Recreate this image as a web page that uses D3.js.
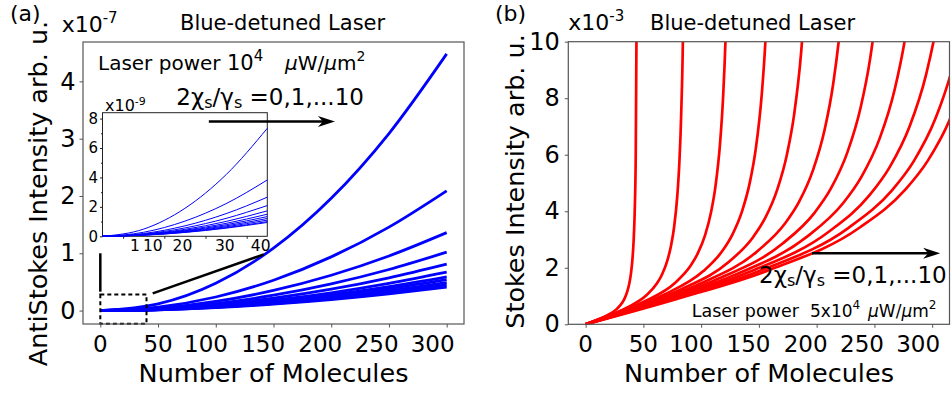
<!DOCTYPE html>
<meta charset="utf-8">
<style>
    body { margin: 0; background: #fff; }
    svg text { font-family: "DejaVu Sans", sans-serif; fill: #000; }
    .frame { fill: none; stroke: #555; stroke-width: 1.2px; }
    .inset-frame { fill: #fff; stroke: #222; stroke-width: 1px; }
    .axis path { display: none; }
    .axis line { stroke: #555; stroke-width: 1px; }
    .tick-label { font-size: 23px; }
    .axis text { font-size: 24px; }
    .inset-axis path { display: none; }
    .inset-axis line { stroke: #222; stroke-width: 1px; }
    .anti { fill: none; stroke: #0000ff; stroke-width: 2.8px; }
    .anti-inset { fill: none; stroke: #0000ff; stroke-width: 1px; }
    .stokes { fill: none; stroke: #ff0000; stroke-width: 2.7px; }
    .guide { fill: none; stroke: #000; stroke-width: 2.5px; }
</style>
<body>
<script src="https://d3js.org/d3.v7.min.js"></script>
<script>

// ---- data ----
// (a) anti-Stokes intensity, units of 1e-7, one row per 2chi/gamma = 0..10
var molecules = [0, 50, 100, 150, 200, 250, 300];
var antiStokes = [
    [0, 0.117, 0.477, 1.09, 1.96, 3.09, 4.48],
    [0, 0.060, 0.237, 0.530, 0.937, 1.457, 2.09],
    [0, 0.041, 0.160, 0.352, 0.617, 0.953, 1.36],
    [0, 0.032, 0.122, 0.268, 0.466, 0.717, 1.02],
    [0, 0.026, 0.099, 0.216, 0.373, 0.572, 0.81],
    [0, 0.023, 0.084, 0.181, 0.311, 0.475, 0.67],
    [0, 0.020, 0.075, 0.160, 0.275, 0.419, 0.59],
    [0, 0.019, 0.068, 0.147, 0.252, 0.383, 0.54],
    [0, 0.017, 0.062, 0.133, 0.229, 0.348, 0.49],
    [0, 0.015, 0.057, 0.122, 0.210, 0.319, 0.45],
    [0, 0.014, 0.052, 0.112, 0.191, 0.291, 0.41]
];
// inset, units of 1e-9
var insetMolecules = [0, 10, 20, 30, 40];
var antiStokesInset = [
    [0, 0.49, 1.90, 4.19, 7.34],
    [0, 0.275, 1.03, 2.22, 3.83],
    [0, 0.19, 0.71, 1.54, 2.66],
    [0, 0.154, 0.568, 1.217, 2.09],
    [0, 0.129, 0.473, 1.01, 1.73],
    [0, 0.114, 0.413, 0.878, 1.50],
    [0, 0.103, 0.372, 0.787, 1.34],
    [0, 0.093, 0.336, 0.711, 1.21],
    [0, 0.085, 0.305, 0.646, 1.10],
    [0, 0.077, 0.277, 0.587, 1.00],
    [0, 0.073, 0.262, 0.553, 0.94]
];
var insetTickPos = [7.9, 12.2, 19.4, 29.7, 38.4];
var insetTickLabels = ["1", "10", "20", "30", "40"];

// (b) Stokes intensity, units of 1e-3, one curve per 2chi/gamma = 0..10
var stokesX = [
    [0, 9.04, 18.07, 27.11, 31.63, 33.89, 36.14, 37.95, 39.31, 40.66, 41.57, 42.47, 43.37, 44.28],
    [0, 17.61, 35.22, 52.84, 61.64, 66.05, 70.45, 73.97, 76.61, 79.25, 81.02, 82.78, 84.54, 86.30],
    [0, 25.86, 51.72, 77.58, 90.51, 96.98, 103.44, 108.61, 112.49, 116.37, 118.96, 121.54, 124.13],
    [0, 33.88, 67.76, 101.64, 118.58, 127.05, 135.52, 142.30, 147.38, 152.46, 155.85, 159.24],
    [0, 41.46, 82.92, 124.38, 145.1, 155.48, 165.8, 174.13, 180.4, 186.6, 190.7],
    [0, 49.26, 98.52, 147.78, 172.4, 184.73, 197.0, 206.89, 214.3, 221.7, 226.6],
    [0, 56.66, 113.3, 169.98, 198.3, 212.48, 226.6, 237.97, 246.5, 255.0, 260.6],
    [0, 63.7, 127.4, 191.1, 223.0, 238.88, 254.8, 267.54, 277.1, 286.7, 293.0],
    [0, 70.16, 140.3, 210.48, 245.6, 263.1, 280.6, 294.67, 305.2, 315.7, 322.7],
    [0, 75.76, 151.5, 227.3, 265.2, 284.1, 303.0, 318.2, 329.6],
    [0, 79.0, 158.0, 237.0, 276.5, 296.25, 316.0, 331.8]
];
var stokesV = [
    [0, 0.144, 0.305, 0.546, 0.760, 0.926, 1.170, 1.472, 1.818, 2.371, 2.967, 3.961, 5.943, 11.90],
    [0, 0.273, 0.578, 1.034, 1.440, 1.754, 2.216, 2.788, 3.444, 4.489, 5.619, 7.501, 11.25, 22.53],
    [0, 0.388, 0.823, 1.474, 2.053, 2.500, 3.158, 3.973, 4.908, 6.398, 8.009, 10.69, 16.04],
    [0, 0.494, 1.046, 1.873, 2.608, 3.176, 4.013, 5.048, 6.236, 8.129, 10.18, 13.58],
    [0, 0.585, 1.240, 2.221, 3.092, 3.765, 4.758, 5.985, 7.394, 9.638, 12.06],
    [0, 0.673, 1.426, 2.554, 3.556, 4.330, 5.471, 6.883, 8.502, 11.08, 13.87],
    [0, 0.748, 1.586, 2.840, 3.954, 4.815, 6.084, 7.654, 9.455, 12.33, 15.43],
    [0, 0.812, 1.722, 3.083, 4.293, 5.227, 6.605, 8.309, 10.26, 13.38, 16.75],
    [0, 0.863, 1.829, 3.275, 4.560, 5.553, 7.016, 8.826, 10.90, 14.21, 17.79],
    [0, 0.897, 1.902, 3.406, 4.742, 5.775, 7.296, 9.179, 11.34],
    [0, 0.900, 1.908, 3.416, 4.755, 5.791, 7.317, 9.205]
];

var xTicks = [0, 50, 100, 150, 200, 250, 300];
var xTickLabelPos = [0, 50, 91.5, 141, 190.5, 239.3, 287.8];
var antiTicks = [0, 1, 2, 3, 4];
var stokesTicks = [0, 2, 4, 6, 8, 10];

// ---- svg ----
var svg = d3.select("body").append("svg")
    .attr("width", 951)
    .attr("height", 394);

var defs = svg.append("defs");

// x axis: tick marks from the axis, labels where the figure puts them
function xAxis(scale, y0) {
    svg.append("g").attr("class", "axis")
        .attr("transform", "translate(0," + y0 + ")")
        .call(d3.axisBottom(scale).tickValues(xTicks).tickSize(3.5))
        .selectAll("text").remove();
    svg.append("g").selectAll("text").data(xTicks).enter().append("text")
        .attr("class", "tick-label")
        .attr("text-anchor", "middle")
        .attr("x", function(d, i) { return scale(xTickLabelPos[i]); })
        .attr("y", y0 + 28)
        .text(function(d) { return d; });
}

// ================= panel (a) =================
var xa = d3.scaleLinear().domain([-15, 315]).range([83, 464]);
var ya = d3.scaleLinear().domain([-0.234, 4.687]).range([324, 42]);

defs.append("clipPath").attr("id", "clipA")
  .append("rect").attr("x", 83).attr("y", 42).attr("width", 381).attr("height", 282);

var antiLine = d3.line()
    .x(function(d, i) { return xa(molecules[i]); })
    .y(function(d) { return ya(d); })
    .curve(d3.curveMonotoneX);

svg.append("g").attr("clip-path", "url(#clipA)")
  .selectAll("path").data(antiStokes).enter().append("path")
    .attr("class", "anti")
    .attr("d", antiLine);

// zoom box + connector lines
svg.append("rect")
    .attr("x", xa(0)).attr("y", ya(0.28))
    .attr("width", xa(40) - xa(0)).attr("height", ya(-0.23) - ya(0.28))
    .attr("fill", "none").attr("stroke", "#000")
    .attr("stroke-width", 2).attr("stroke-dasharray", "4,3");
svg.append("line").attr("class", "guide")
    .attr("x1", xa(0)).attr("y1", ya(0.33)).attr("x2", xa(0)).attr("y2", ya(1.0));
svg.append("line").attr("class", "guide")
    .attr("x1", xa(45.4)).attr("y1", ya(0.30)).attr("x2", xa(141.6)).attr("y2", ya(0.98));

svg.append("rect").attr("class", "frame")
    .attr("x", 83).attr("y", 42).attr("width", 381).attr("height", 282);

xAxis(xa, 324);
svg.append("g").attr("class", "axis")
    .attr("transform", "translate(83,0)")
    .call(d3.axisLeft(ya).tickValues(antiTicks).tickFormat(d3.format("d"))
        .tickSize(3.5).tickPadding(4));

// inset
var xi = d3.scaleLinear().domain([0, 40]).range([102.5, 267.3]);
var yi = d3.scaleLinear().domain([0, 8.4]).range([236.3, 112.7]);

svg.append("rect").attr("class", "inset-frame")
    .attr("x", 102.5).attr("y", 112.7).attr("width", 164.8).attr("height", 123.6);

var insetLine = d3.line()
    .x(function(d, i) { return xi(insetMolecules[i]); })
    .y(function(d) { return yi(d); })
    .curve(d3.curveMonotoneX);

svg.append("g").selectAll("path").data(antiStokesInset).enter().append("path")
    .attr("class", "anti-inset")
    .attr("d", insetLine);

svg.append("g").attr("class", "inset-axis")
    .attr("transform", "translate(102.5,0)")
    .call(d3.axisLeft(yi).tickValues([0, 2, 4, 6, 8]).tickSize(2.5).tickPadding(2))
    .selectAll("text").style("font-size", "15px");
svg.append("g").attr("class", "inset-axis")
    .attr("transform", "translate(102.5,0)")
    .call(d3.axisLeft(yi).tickValues([1, 3, 5, 7]).tickSize(1.5))
    .selectAll("text").remove();
svg.append("g").attr("class", "inset-axis")
    .attr("transform", "translate(0,236.3)")
    .call(d3.axisBottom(xi).tickValues([5, 15, 25, 35]).tickSize(2.5))
    .selectAll("text").remove();
svg.append("g").selectAll("text").data(insetTickLabels).enter().append("text")
    .attr("x", function(d, i) { return xi(insetTickPos[i]); })
    .attr("y", 251)
    .attr("text-anchor", "middle")
    .style("font-size", "15.5px")
    .text(function(d) { return d; });

var ex9 = svg.append("text").attr("x", 105).attr("y", 110.5).style("font-size", "16px");
ex9.append("tspan").text("x10");
ex9.append("tspan").attr("dy", -6).style("font-size", "11px").text("-9");

// texts (a)
svg.append("text").attr("x", 10).attr("y", 21).style("font-size", "22px").text("(a)");
var ex7 = svg.append("text").attr("x", 61.7).attr("y", 31.5).style("font-size", "22px");
ex7.append("tspan").text("x10");
ex7.append("tspan").attr("dy", -9).style("font-size", "15px").text("-7");
svg.append("text").attr("x", 180).attr("y", 30).style("font-size", "21px").text("Blue-detuned Laser");

svg.append("text").attr("x", 98).attr("y", 70).style("font-size", "20px").text("Laser power");
var p4 = svg.append("text").attr("x", 227).attr("y", 70).style("font-size", "21px");
p4.append("tspan").text("10");
p4.append("tspan").attr("dy", -9).style("font-size", "15px").text("4");
var un1 = svg.append("text").attr("x", 285).attr("y", 70).style("font-size", "20px");
un1.append("tspan").style("font-style", "italic").text("\u03bc");
un1.append("tspan").text("W/");
un1.append("tspan").style("font-style", "italic").text("\u03bc");
un1.append("tspan").text("m");
un1.append("tspan").attr("dy", -9).style("font-size", "14px").text("2");

function ratioLabel(x, y) {
    var t = svg.append("text").attr("x", x).attr("y", y).style("font-size", "23px");
    t.append("tspan").text("2\u03c7");
    t.append("tspan").attr("dy", 3).style("font-size", "16px").text("s");
    t.append("tspan").attr("dy", -3).text("/\u03b3");
    t.append("tspan").attr("dy", 3).style("font-size", "16px").text("s");
    t.append("tspan").attr("dy", -3).text(" =0,1,...10");
}
ratioLabel(176.3, 105);

function arrow(x1, x2, y) {
    svg.append("line").attr("stroke", "#000").attr("stroke-width", 2.5)
        .attr("x1", x1).attr("y1", y).attr("x2", x2 - 12).attr("y2", y);
    svg.append("path").attr("fill", "#000")
        .attr("d", "M" + x2 + "," + y + "L" + (x2 - 17) + "," + (y - 5.5) +
              "L" + (x2 - 12) + "," + y + "L" + (x2 - 17) + "," + (y + 5.5) + "Z");
}
arrow(xa(94), xa(203.2), ya(3.30));

svg.append("text").attr("text-anchor", "middle").attr("x", 273.5).attr("y", 381.5)
    .style("font-size", "25.5px").text("Number of Molecules");
svg.append("text").attr("text-anchor", "middle")
    .attr("transform", "translate(47,193.5) rotate(-90)")
    .style("font-size", "25.5px").text("AntiStokes Intensity arb. u.");

// ================= panel (b) =================
var xb = d3.scaleLinear().domain([-15, 315]).range([568.3, 949.5]);
var yb = d3.scaleLinear().domain([0, 10]).range([324.3, 41.7]);

defs.append("clipPath").attr("id", "clipB")
  .append("rect").attr("x", 568.3).attr("y", 41.7).attr("width", 381.2).attr("height", 282.6);

var stokesLine = d3.line()
    .x(function(d) { return xb(d[0]); })
    .y(function(d) { return yb(d[1]); })
    .curve(d3.curveMonotoneX);

svg.append("g").attr("clip-path", "url(#clipB)")
  .selectAll("path").data(stokesX).enter().append("path")
    .attr("class", "stokes")
    .attr("d", function(xs, k) {
        return stokesLine(xs.map(function(x, i) { return [x, stokesV[k][i]]; }));
    });

svg.append("rect").attr("class", "frame")
    .attr("x", 568.3).attr("y", 41.7).attr("width", 381.2).attr("height", 282.6);

xAxis(xb, 324.3);
svg.append("g").attr("class", "axis")
    .attr("transform", "translate(568.3,0)")
    .call(d3.axisLeft(yb).tickValues(stokesTicks).tickFormat(d3.format("d"))
        .tickSize(3.5).tickPadding(5));

svg.append("text").attr("x", 495).attr("y", 21).style("font-size", "22px").text("(b)");
var ex3 = svg.append("text").attr("x", 568.3).attr("y", 29.5).style("font-size", "22px");
ex3.append("tspan").text("x10");
ex3.append("tspan").attr("dy", -9).style("font-size", "15px").text("-3");
svg.append("text").attr("x", 650).attr("y", 30).style("font-size", "21px").text("Blue-detuned Laser");

arrow(xb(196), xb(306.9), yb(2.51));
ratioLabel(759, 283.3);

svg.append("text").attr("x", 691.7).attr("y", 317.3).style("font-size", "17.5px").text("Laser power");
var p5 = svg.append("text").attr("x", 810).attr("y", 317.3).style("font-size", "17px");
p5.append("tspan").text("5x10");
p5.append("tspan").attr("dy", -8).style("font-size", "12px").text("4");
var un2 = svg.append("text").attr("x", 868).attr("y", 317.3).style("font-size", "17px");
un2.append("tspan").style("font-style", "italic").text("\u03bc");
un2.append("tspan").text("W/");
un2.append("tspan").style("font-style", "italic").text("\u03bc");
un2.append("tspan").text("m");
un2.append("tspan").attr("dy", -8).style("font-size", "12px").text("2");

svg.append("text").attr("text-anchor", "middle").attr("x", 759).attr("y", 381.5)
    .style("font-size", "25.5px").text("Number of Molecules");
svg.append("text").attr("text-anchor", "middle")
    .attr("transform", "translate(523.6,181.5) rotate(-90)")
    .style("font-size", "25.5px").text("Stokes Intensity arb. u.");

</script>
</body>
